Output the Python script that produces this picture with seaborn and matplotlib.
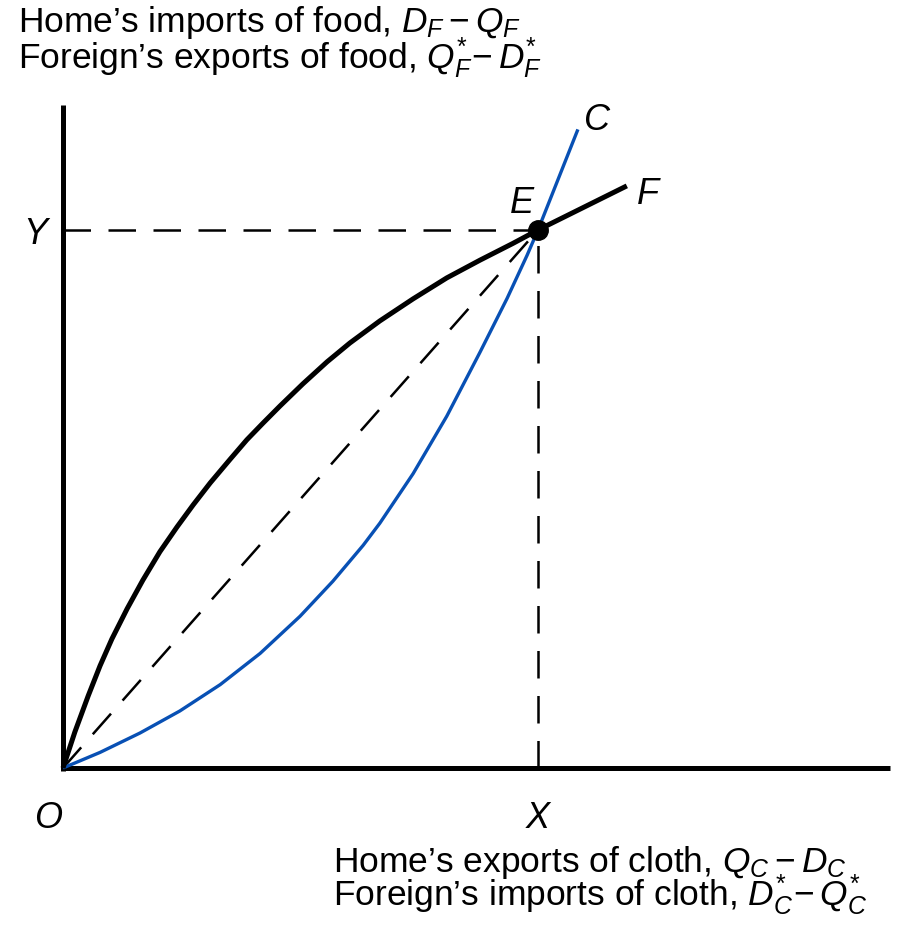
import matplotlib
matplotlib.use("Agg")
import matplotlib.pyplot as plt
import seaborn as sns
import pandas as pd

# ---- data (units: X = 1, Y = 1 at equilibrium E) ----
food_x = [0.0, 0.025, 0.053, 0.078, 0.103, 0.135, 0.168, 0.204, 0.240, 0.274, 0.310,
          0.352, 0.387, 0.421, 0.457, 0.505, 0.556, 0.604, 0.667, 0.737, 0.808, 0.878,
          0.947, 1.0, 1.187]
food_y = [0.0, 0.067, 0.134, 0.190, 0.240, 0.296, 0.349, 0.402, 0.448, 0.489, 0.530,
          0.574, 0.610, 0.641, 0.673, 0.714, 0.755, 0.790, 0.831, 0.872, 0.911, 0.944,
          0.975, 1.0, 1.082]
cloth_x = [0.0, 0.078, 0.162, 0.246, 0.331, 0.415, 0.499, 0.568, 0.632, 0.667, 0.737,
           0.808, 0.878, 0.935, 0.977, 1.0, 1.084]
cloth_y = [0.0, 0.029, 0.065, 0.106, 0.155, 0.213, 0.282, 0.347, 0.414, 0.455, 0.547,
           0.654, 0.773, 0.873, 0.953, 1.0, 1.187]
eq_x, eq_y = 1.0, 1.0
x_axis_end = 1.741
y_axis_top = 1.232

sns.set_theme(style="white")
plt.rcParams["font.family"] = ["Liberation Sans", "DejaVu Sans"]
plt.rcParams["mathtext.fontset"] = "custom"
plt.rcParams["mathtext.it"] = "Liberation Sans:italic"
plt.rcParams["mathtext.rm"] = "Liberation Sans"
plt.rcParams["text.color"] = "black"

fig = plt.figure(figsize=(9.05, 9.36), dpi=100)
ax = fig.add_axes([0, 0, 1, 1])
ax.set_xlim(-63 / 475, 842 / 475)
ax.set_ylim(-168 / 538, 768 / 538)
ax.axis("off")

# axes
ax.plot([0, 0], [-0.005, y_axis_top], color="black", lw=3.6, solid_capstyle="butt")
ax.plot([-0.005, x_axis_end], [0, 0], color="black", lw=3.6, solid_capstyle="butt")

# dashed guides
dash = dict(color="black", lw=1.8, dashes=(11, 7))
ax.plot([0, eq_x], [eq_y, eq_y], **dash)
ax.plot([eq_x, eq_x], [0, eq_y], **dash)
ax.plot([0, eq_x], [0, eq_y], **dash)

food = pd.DataFrame({"x": food_x, "y": food_y})
cloth = pd.DataFrame({"x": cloth_x, "y": cloth_y})
sns.lineplot(data=cloth, x="x", y="y", sort=False, estimator=None, color="#0850b4",
             lw=2.4, ax=ax, solid_capstyle="butt", solid_joinstyle="round")
sns.lineplot(data=food, x="x", y="y", sort=False, estimator=None, color="black",
             lw=3.6, ax=ax, solid_capstyle="butt", solid_joinstyle="round")
ax.plot([eq_x], [eq_y], "o", color="black", ms=14)

def px(x, y):
    return ((x - 63) / 475, (768 - y) / 538)

fs = 26
lbl = dict(fontsize=fs, fontstyle="italic", color="black")
ax.text(*px(48, 828), "O", ha="center", va="baseline", **lbl)
ax.text(*px(538, 828), "X", ha="center", va="baseline", **lbl)
ax.text(*px(35, 244), "Y", ha="center", va="baseline", **lbl)
ax.text(*px(522, 213), "E", ha="center", va="baseline", **lbl)
ax.text(*px(597, 130), "C", ha="center", va="baseline", **lbl)
ax.text(*px(648, 204), "F", ha="center", va="baseline", **lbl)

tfs = 25.5
ax.text(*px(18, 32), r"Home’s imports of food, $D_F - Q_F$", ha="left", va="baseline",
        fontsize=tfs, color="black")
ax.text(*px(18, 68), r"Foreign’s exports of food, $Q_F^{*}\!- D_F^{*}$", ha="left", va="baseline",
        fontsize=tfs, color="black")
ax.text(*px(333, 872), r"Home’s exports of cloth, $Q_C - D_C$", ha="left", va="baseline",
        fontsize=tfs, color="black")
ax.text(*px(333, 905), r"Foreign’s imports of cloth, $D_C^{*}\!- Q_C^{*}$", ha="left", va="baseline",
        fontsize=tfs, color="black")

fig.savefig("out.png", dpi=100)
